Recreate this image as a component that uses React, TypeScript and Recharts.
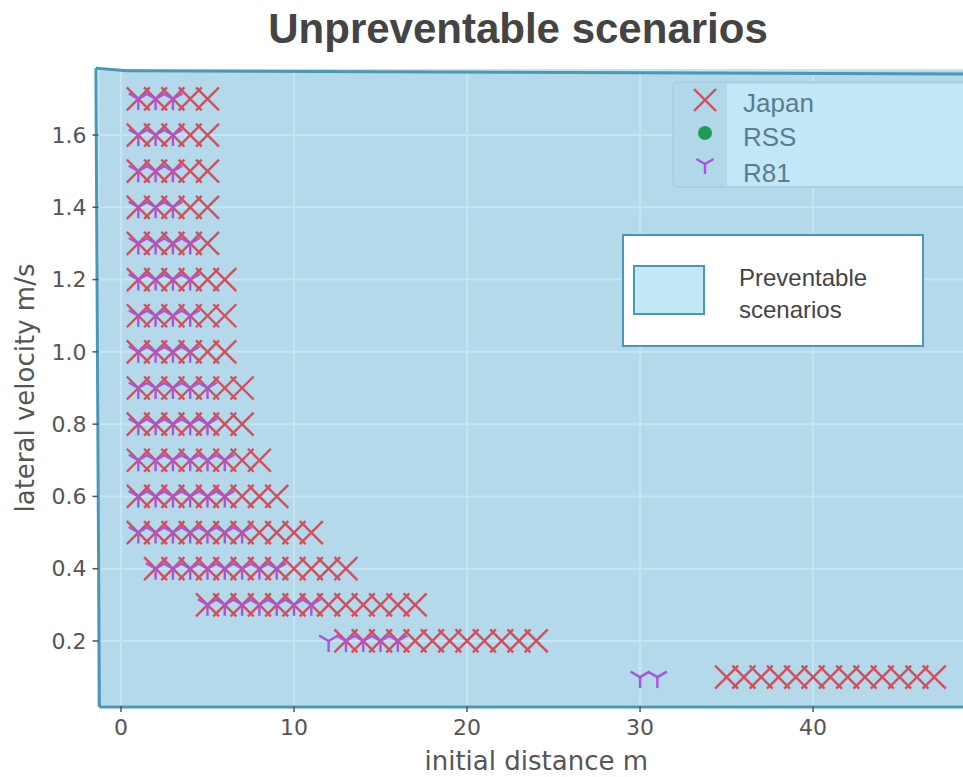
import { ScatterChart, Scatter, XAxis, YAxis, CartesianGrid, ReferenceLine } from 'recharts'

// lateral velocity rows (m/s), top to bottom
const velocities = [1.7, 1.6, 1.5, 1.4, 1.3, 1.2, 1.1, 1.0, 0.9, 0.8, 0.7, 0.6, 0.5, 0.4, 0.3, 0.2, 0.1]

// unpreventable initial distances (m) per velocity row
const japanDistances = [
  [1, 2, 3, 4, 5],
  [1, 2, 3, 4, 5],
  [1, 2, 3, 4, 5],
  [1, 2, 3, 4, 5],
  [1, 2, 3, 4, 5],
  [1, 2, 3, 4, 5, 6],
  [1, 2, 3, 4, 5, 6],
  [1, 2, 3, 4, 5, 6],
  [1, 2, 3, 4, 5, 6, 7],
  [1, 2, 3, 4, 5, 6, 7],
  [1, 2, 3, 4, 5, 6, 7, 8],
  [1, 2, 3, 4, 5, 6, 7, 8, 9],
  [1, 2, 3, 4, 5, 6, 7, 8, 9, 10, 11],
  [2, 3, 4, 5, 6, 7, 8, 9, 10, 11, 12, 13],
  [5, 6, 7, 8, 9, 10, 11, 12, 13, 14, 15, 16, 17],
  [13, 14, 15, 16, 17, 18, 19, 20, 21, 22, 23, 24],
  [35, 36, 37, 38, 39, 40, 41, 42, 43, 44, 45, 46, 47],
]

const r81Distances = [
  [1, 2, 3],
  [1, 2, 3],
  [1, 2, 3],
  [1, 2, 3],
  [1, 2, 3, 4],
  [1, 2, 3, 4],
  [1, 2, 3, 4],
  [1, 2, 3, 4],
  [1, 2, 3, 4, 5],
  [1, 2, 3, 4, 5],
  [1, 2, 3, 4, 5, 6],
  [1, 2, 3, 4, 5, 6],
  [1, 2, 3, 4, 5, 6, 7],
  [2, 3, 4, 5, 6, 7, 8, 9],
  [5, 6, 7, 8, 9, 10, 11],
  [12, 13, 14, 15, 16],
  [30, 31],
]

const rssDistances: number[][] = velocities.map(() => [])

const xTicks = [0, 10, 20, 30, 40]
const yTicks = [0.2, 0.4, 0.6, 0.8, 1.0, 1.2, 1.4, 1.6]

// outline of the preventable region (data coords)
const regionTop = [
  { x: -1.45, y: 1.785 },
  { x: 0.35, y: 1.778 },
  { x: 49.3, y: 1.7686 },
]
const regionBottomLeft = { x: -1.25, y: 0.017 }
const regionBottomRight = { x: 49.3, y: 0.017 }

const toPoints = (rows: number[][]) =>
  rows.flatMap((xs, i) => xs.map((x) => ({ x, y: velocities[i] })))

const japanData = toPoints(japanDistances)
const rssData = toPoints(rssDistances)
const r81Data = toPoints(r81Distances)

const RED = '#d04f5e'
const PURPLE = '#a655dc'
const GREEN = '#1f9d57'
const EDGE = '#4a98b4'

const XMark = ({ cx, cy, s = 11.5 }: any) => (
  <g stroke={RED} strokeWidth={2.4} strokeLinecap="butt">
    <line x1={cx - s} y1={cy - s} x2={cx + s} y2={cy + s} />
    <line x1={cx - s} y1={cy + s} x2={cx + s} y2={cy - s} />
  </g>
)

const TriDown = ({ cx, cy, s = 11 }: any) => (
  <g stroke={PURPLE} strokeWidth={2.4}>
    <line x1={cx} y1={cy} x2={cx} y2={cy + s} />
    <line x1={cx} y1={cy} x2={cx - s * 0.866} y2={cy - s * 0.5} />
    <line x1={cx} y1={cy} x2={cx + s * 0.866} y2={cy - s * 0.5} />
  </g>
)

const Dot = ({ cx, cy }: any) => <circle cx={cx} cy={cy} r={7} fill={GREEN} />

const sans = 'Liberation Sans, Arial, sans-serif'
const dejavu = 'DejaVu Sans, sans-serif'

export default function App() {
  return (
    <div style={{ position: 'absolute', left: 0, top: 0, width: 963, height: 777, overflow: 'hidden', background: '#fff' }}>
      <ScatterChart width={980} height={777} margin={{ top: 70, right: 6, bottom: 0, left: 0 }}>
        <CartesianGrid fill="#b3d9ea" stroke="#c6e5f2" strokeWidth={2} fillOpacity={1} />
        <XAxis
          type="number"
          dataKey="x"
          domain={[-1.3, 49.3]}
          ticks={xTicks}
          allowDataOverflow
          height={71}
          axisLine={false}
          tickSize={6}
          tickMargin={7}
          tickLine={{ stroke: '#555', strokeWidth: 1.5 }}
          tick={{ fill: '#555', fontSize: 22, fontFamily: dejavu }}
          label={{ value: 'initial distance m', position: 'insideBottom', offset: 7, fill: '#555', fontSize: 26, fontFamily: dejavu }}
        />
        <YAxis
          type="number"
          dataKey="y"
          domain={[0.02, 1.78]}
          ticks={yTicks}
          allowDataOverflow
          width={98.5}
          axisLine={false}
          tickSize={6}
          tickMargin={6}
          tickFormatter={(v) => v.toFixed(1)}
          tickLine={{ stroke: '#555', strokeWidth: 1.5 }}
          tick={{ fill: '#555', fontSize: 22, fontFamily: dejavu }}
          label={{ value: 'lateral velocity m/s', angle: -90, position: 'insideLeft', offset: 25, fill: '#555', fontSize: 26, fontFamily: dejavu, style: { textAnchor: 'middle' } }}
        />
        <ReferenceLine segment={[regionTop[0], regionTop[1]]} stroke={EDGE} strokeWidth={3} ifOverflow="visible" />
        <ReferenceLine segment={[regionTop[1], regionTop[2]]} stroke={EDGE} strokeWidth={3} ifOverflow="visible" />
        <ReferenceLine segment={[regionTop[0], regionBottomLeft]} stroke={EDGE} strokeWidth={3} ifOverflow="visible" />
        <ReferenceLine segment={[regionBottomLeft, regionBottomRight]} stroke={EDGE} strokeWidth={3} ifOverflow="visible" />
        <Scatter name="Japan" data={japanData} shape={(p: any) => <XMark cx={p.cx} cy={p.cy} />} isAnimationActive={false} />
        <Scatter name="RSS" data={rssData} shape={(p: any) => <Dot cx={p.cx} cy={p.cy} />} isAnimationActive={false} />
        <Scatter name="R81" data={r81Data} shape={(p: any) => <TriDown cx={p.cx} cy={p.cy} />} isAnimationActive={false} />
      </ScatterChart>
      <svg width={963} height={777} style={{ position: 'absolute', left: 0, top: 0, pointerEvents: 'none' }}>
        <text x={518} y={43} textAnchor="middle" fontSize={42} fontWeight="bold" fill="#444" fontFamily={sans}>
          Unpreventable scenarios
        </text>
        {/* series legend */}
        <rect x={673} y={82} width={300} height={105} rx={5} fill="#b1d8e9" stroke="#a5cddf" strokeWidth={1.5} />
        <rect x={727} y={84} width={240} height={102} fill="#c2e8f7" />
        <XMark cx={705} cy={100} s={11} />
        <Dot cx={705} cy={133} />
        <TriDown cx={705} cy={164} s={10} />
        <g fill="#5b7c8e" fontSize={26} fontFamily={sans}>
          <text x={743} y={112}>Japan</text>
          <text x={743} y={146}>RSS</text>
          <text x={743} y={182}>R81</text>
        </g>
        {/* region legend */}
        <rect x={623} y={235} width={300} height={111} fill="#fff" stroke={EDGE} strokeWidth={2} />
        <rect x={634} y={266} width={70} height={48} fill="#c2e8f7" stroke={EDGE} strokeWidth={2} />
        <g fill="#444" fontSize={24} fontFamily={sans}>
          <text x={739} y={286}>Preventable</text>
          <text x={739} y={318}>scenarios</text>
        </g>
      </svg>
    </div>
  )
}
